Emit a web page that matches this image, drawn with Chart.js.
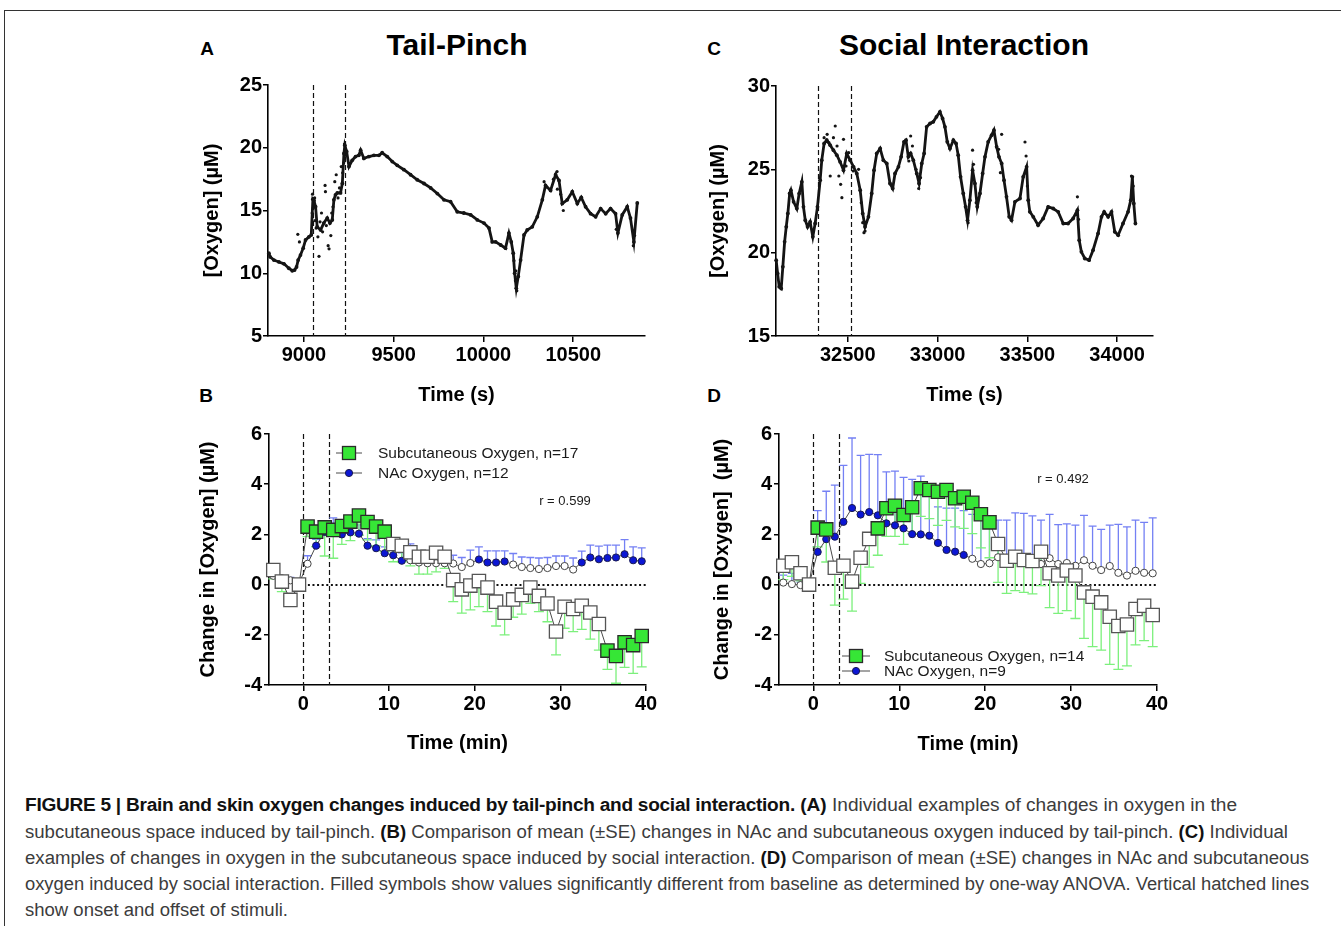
<!DOCTYPE html>
<html>
<head>
<meta charset="utf-8">
<script src="https://cdn.jsdelivr.net/npm/chart.js@4.4.1/dist/chart.umd.min.js"></script>
<style>
  html, body { margin: 0; padding: 0; background: #fff; }
  body { width: 1341px; height: 926px; position: relative; overflow: hidden;
         font-family: 'Liberation Sans', Arial, sans-serif; }
  .rule { position: absolute; }
  canvas { position: absolute; }
  .lbl { position: absolute; font-weight: bold; color: #000; white-space: nowrap;
         line-height: 1; transform: translate(-50%, -50%); }
  .cap { position: absolute; left: 25px; font-size: 18px; line-height: 20px; color: #3c3c3c;
         white-space: nowrap; transform-origin: 0 50%; }
  .cap b { color: #111; }
  .cap b.head { letter-spacing: -0.25px; }
</style>
</head>
<body>
<div class="rule" style="left:4px;top:10px;width:1337px;border-top:1.5px solid #333"></div>
<div class="rule" style="left:4px;top:10px;height:916px;border-left:1.5px solid #333"></div>

<div class="lbl" style="left:207px;top:48px;font-size:19px">A</div>
<div class="lbl" style="left:457px;top:45px;font-size:30px">Tail-Pinch</div>
<div class="lbl" style="left:714px;top:48px;font-size:19px">C</div>
<div class="lbl" style="left:964px;top:45px;font-size:30px">Social Interaction</div>
<div class="lbl" style="left:206px;top:395px;font-size:19px">B</div>
<div class="lbl" style="left:714px;top:395px;font-size:19px">D</div>

<canvas id="chartA" width="480" height="360" style="left:190px;top:60px;width:480px;height:360px"></canvas>
<canvas id="chartC" width="480" height="360" style="left:700px;top:60px;width:480px;height:360px"></canvas>
<canvas id="chartB" width="480" height="350" style="left:190px;top:420px;width:480px;height:350px"></canvas>
<canvas id="chartD" width="480" height="350" style="left:700px;top:420px;width:480px;height:350px"></canvas>

<div class="cap" data-w="1212" style="top:795px"><b class="head">FIGURE 5 | Brain and skin oxygen changes induced by tail-pinch and social interaction.</b> <b>(A)</b> Individual examples of changes in oxygen in the</div>
<div class="cap" data-w="1263" style="top:822px">subcutaneous space induced by tail-pinch. <b>(B)</b> Comparison of mean (±SE) changes in NAc and subcutaneous oxygen induced by tail-pinch. <b>(C)</b> Individual</div>
<div class="cap" data-w="1284" style="top:848px">examples of changes in oxygen in the subcutaneous space induced by social interaction. <b>(D)</b> Comparison of mean (±SE) changes in NAc and subcutaneous</div>
<div class="cap" data-w="1284" style="top:874px">oxygen induced by social interaction. Filled symbols show values significantly different from baseline as determined by one-way ANOVA. Vertical hatched lines</div>
<div class="cap" data-w="263" style="top:900px">show onset and offset of stimuli.</div>

<script>
// ---------- Panel A: tail-pinch, single subcutaneous recording ----------
const tpTime = [8805,8812,8833,8861,8889,8916,8935,8948,8959,8968,
  8981,8996,9009,9028,9041,9050,9056,9065,9074,9093,
  9111,9130,9145,9158,9167,9176,9186,9204,9214,9223,
  9228,9238,9251,9269,9288,9306,9316,9334,9362,9390,
  9418,9436,9464,9492,9520,9557,9594,9631,9669,9706,
  9743,9780,9817,9854,9891,9929,9966,10003,10031,10049,
  10068,10096,10123,10142,10155,10166,10174,10183,10194,10207,
  10226,10244,10272,10300,10328,10346,10374,10402,10421,10439,
  10467,10495,10523,10545,10569,10597,10625,10653,10681,10708,
  10736,10749,10773,10801,10819,10838,10857];
const tpO2 = [11.6,11.3,11.05,10.9,10.75,10.4,10.2,10.25,10.5,11.05,
  11.45,12.0,12.65,12.9,13.05,15.9,15.8,15.3,13.7,13.45,
  14.0,14.4,14.0,14.25,15.85,16.25,16.4,16.4,17.15,19.55,
  20.2,19.7,18.5,19.0,19.3,19.4,19.8,19.15,19.3,19.4,
  19.4,19.6,19.3,18.9,18.6,18.25,17.85,17.45,17.15,16.8,
  16.35,15.85,15.7,14.9,14.8,14.65,14.25,14.0,13.6,12.5,
  12.5,12.25,12.0,13.2,12.5,11.6,10.0,8.8,9.75,11.05,
  13.05,13.45,13.7,14.5,15.85,17.0,16.6,17.85,17.4,15.55,
  15.85,16.5,15.55,16.05,15.3,14.75,14.5,15.15,14.75,15.15,
  14.75,13.2,14.65,15.3,14.4,12.5,15.6];
// isolated samples around the noisy stretches
const tpDotTime = [8966,8975,9046,9048,9052,9060,9062,9068,9078,9084,9090,9098,9104,9118,9120,9125,9135,9140,9150,9155,
  9162,9172,9180,9190,9198,9208,9216,9222,9226,9232,10170,10178,10186,10180,10338,10390,10410,10412,10430,10445,10740,10835,10842];
const tpDotO2 = [13.1,12.5,14.8,16.3,15.2,16.0,14.2,13.6,12.9,11.35,14.1,14.8,13.3,17.0,16.5,13.8,12.2,11.95,13.0,14.8,
  15.3,17.3,17.85,16.0,16.8,18.5,18.0,18.8,20.3,19.4,11.0,9.4,8.6,10.2,17.3,17.5,18.1,16.7,16.3,15.0,13.5,12.2,13.0];
const tpStimulus = [9050, 9230];
const tpTicksX = [9000, 9500, 10000, 10500];
const tpTicksY = [5, 10, 15, 20, 25];

// ---------- Panel C: social interaction, single subcutaneous recording ----------
const siTime = [32101,32109,32118,32129,32138,32148,32157,32166,32176,32183,
  32198,32216,32229,32244,32253,32263,32276,32290,32305,32318,
  32331,32346,32355,32368,32383,32402,32420,32439,32457,32476,
  32494,32513,32532,32550,32569,32583,32596,32615,32633,32646,
  32661,32680,32698,32717,32735,32750,32763,32782,32797,32813,
  32824,32837,32850,32865,32884,32897,32912,32925,32939,32958,
  32976,32994,33013,33028,33041,33054,33069,33088,33103,33115,
  33128,33143,33156,33167,33180,33195,33208,33221,33236,33251,
  33264,33282,33301,33314,33329,33342,33357,33370,33384,33399,
  33412,33431,33459,33477,33496,33505,33514,33533,33560,33588,
  33616,33644,33672,33700,33727,33755,33779,33789,33801,33820,
  33844,33866,33894,33913,33928,33950,33969,33987,34006,34033,
  34061,34076,34085,34093,34102];
const siO2 = [19.55,18.75,17.95,17.85,19.15,20.65,21.55,22.35,23.55,23.75,
  23.05,22.65,23.55,24.25,22.75,21.95,21.55,21.85,20.95,21.75,
  22.75,24.35,25.55,26.55,26.75,26.45,26.15,25.85,25.45,24.95,
  25.95,25.55,25.15,24.75,23.75,22.35,21.55,22.15,23.55,24.95,
  25.95,26.25,25.55,25.35,24.15,23.85,24.75,25.15,25.75,26.65,
  26.75,25.75,25.95,25.55,24.75,24.15,25.35,25.95,27.55,27.75,
  27.85,28.15,28.45,28.05,27.55,26.65,26.25,26.75,26.55,25.85,
  24.55,23.55,22.75,21.95,23.15,24.95,24.15,22.75,23.55,24.75,
  25.75,26.65,27.05,27.35,26.35,25.75,25.35,24.35,23.35,22.15,
  21.95,23.05,23.25,24.55,25.15,23.15,22.45,22.15,21.65,22.05,
  22.75,22.65,22.45,21.75,21.75,22.05,22.55,20.75,20.05,19.65,
  19.55,20.15,21.15,22.15,22.45,22.15,22.45,21.25,21.05,21.75,
  22.45,23.15,24.55,22.95,21.75];
const siDotTime = [32368,32385,32395,32402,32420,32430,32440,32450,32460,32467,32476,32490,32505,32530,32560,32575,32583,32590,32596,
  32840,32850,32860,32880,32895,32905,33170,33195,33200,33215,33340,33350,33357,33487,33493,33500,33779,33785,34080,34090];
const siDotO2 = [26.9,27.1,26.6,24.6,26.9,27.6,26.4,24.6,24.1,23.3,26.8,25.2,26.0,24.9,25.0,23.0,21.8,21.2,21.3,
  25.5,27.0,26.4,25.0,23.85,24.5,21.8,26.15,25.3,23.0,26.2,24.8,27.1,26.64,25.8,24.0,23.35,22.0,24.6,24.0];
const siStimulus = [32333, 32517];
const siTicksX = [32500, 33000, 33500, 34000];
const siTicksY = [15, 20, 25, 30];

// ---------- Panels B and D: mean changes per 1-min bin ----------
const minutes = [-3.5,-2.5,-1.5,-0.5,0.5,1.5,2.5,3.5,4.5,5.5,6.5,7.5,8.5,9.5,10.5,11.5,12.5,13.5,14.5,15.5,16.5,17.5,
  18.5,19.5,20.5,21.5,22.5,23.5,24.5,25.5,26.5,27.5,28.5,29.5,30.5,31.5,32.5,33.5,34.5,35.5,36.5,37.5,38.5,39.5];
const minuteStimulus = [0, 3];
const minuteTicksX = [0, 10, 20, 30, 40];
const changeTicksY = [-4, -2, 0, 2, 4, 6];

// tail-pinch
const subTP = [0.58,0.12,-0.61,0.00,2.31,2.11,2.28,2.18,2.33,2.51,2.75,2.49,2.31,2.11,1.62,1.55,1.29,1.11,1.11,1.27,1.11,0.18,
  -0.19,-0.04,0.14,-0.12,-0.68,-1.12,-0.59,-0.41,-0.12,-0.45,-0.75,-1.87,-0.88,-0.97,-0.84,-1.11,-1.57,-2.63,-2.84,-2.30,-2.41,-2.05];
const subTPse = [0.35,0.40,0.23,0.05,0.40,0.60,1.14,1.13,0.73,0.76,0.78,0.71,0.77,0.80,0.71,0.64,0.54,0.69,0.69,0.76,0.46,0.86,
  0.95,0.97,1.02,0.96,0.97,0.88,0.71,0.77,0.63,0.63,0.73,0.93,0.86,0.90,0.94,1.06,1.04,0.75,1.09,1.00,1.13,1.23];
const subTPsig = [0,0,0,0,1,1,1,1,1,1,1,1,1,1,0,0,0,0,0,0,0,0,0,0,0,0,0,0,0,0,0,0,0,0,0,0,0,0,0,1,1,1,1,1];
const nacTP = [0.35,0.25,0.17,0.05,0.83,1.55,2.10,2.10,2.00,2.08,2.03,1.55,1.45,1.25,1.17,0.95,0.97,0.88,0.85,0.85,0.85,0.84,
  0.70,0.86,1.00,0.88,0.88,0.92,0.80,0.70,0.66,0.62,0.66,0.74,0.74,0.60,0.88,1.08,1.01,1.06,1.08,1.21,0.97,0.93];
const nacTPse = [0.10,0.10,0.12,0.05,0.32,0.25,0.15,0.56,0.30,0.27,0.35,0.28,0.33,0.25,0.22,0.31,0.65,0.27,0.20,0.25,0.35,0.33,
  0.38,0.51,0.50,0.46,0.46,0.42,0.44,0.40,0.42,0.44,0.42,0.40,0.40,0.46,0.45,0.49,0.52,0.51,0.49,0.58,0.53,0.53];
const nacTPsig = [0,0,0,0,0,1,1,1,1,1,1,1,1,1,1,1,0,0,0,0,0,0,0,0,1,1,1,1,0,0,0,0,0,0,0,0,1,1,1,1,1,1,1,1];

// social interaction
const subSI = [0.75,0.89,0.45,0.00,2.27,2.20,0.67,0.75,0.12,1.07,1.82,2.24,3.04,3.14,2.77,3.08,3.84,3.77,3.70,3.77,3.44,3.50,
  3.26,2.80,2.48,1.62,0.95,1.11,0.98,0.94,1.31,0.45,0.36,0.56,0.36,-0.31,-0.48,-0.71,-1.28,-1.65,-1.59,-0.97,-0.84,-1.21];
const subSIse = [0.55,0.56,0.30,0.05,0.77,1.30,1.49,1.33,1.18,1.02,1.12,1.07,1.12,1.22,1.17,1.05,1.12,1.14,1.34,1.21,1.14,1.26,
  1.23,1.34,1.41,1.53,1.30,1.35,1.29,1.31,1.35,1.37,1.51,1.60,1.71,1.83,1.99,1.90,1.90,1.73,1.65,1.43,1.39,1.26];
const subSIsig = [0,0,0,0,1,1,0,0,0,0,0,1,1,1,1,1,1,1,1,1,1,1,1,1,1,0,0,0,0,0,0,0,0,0,0,0,0,0,0,0,0,0,0,0];
const nacSI = [0.08,0.02,-0.02,0.00,1.30,1.81,1.91,2.50,3.05,2.79,2.89,2.76,2.44,2.36,2.24,2.01,2.00,1.95,1.66,1.38,1.31,1.18,
  1.03,0.82,0.85,1.09,0.95,0.98,0.90,0.85,0.82,1.05,0.82,0.86,0.75,0.97,0.75,0.58,0.74,0.47,0.36,0.55,0.47,0.45];
const nacSIse = [0.30,0.43,0.12,0.05,1.65,1.91,2.05,2.25,2.79,2.36,2.30,2.42,2.05,2.16,2.03,2.18,2.32,2.00,1.44,1.67,1.74,1.77,
  1.77,1.75,1.72,1.48,1.62,1.88,1.94,1.89,1.75,1.75,1.57,1.56,1.62,1.79,1.58,1.62,1.63,1.93,1.94,2.02,2.01,2.21];
const nacSIsig = [0,0,0,0,1,1,1,1,1,1,1,1,1,1,1,1,1,1,1,1,1,1,0,0,0,0,0,0,0,0,0,0,0,0,0,0,0,0,0,0,0,0,0,0];

// ---------- styling ----------
const FONT = "'Liberation Sans', Arial, sans-serif";
const GREEN = '#36e636', GREEN_ERR = '#7cf07c';
const BLUE = '#0b16d4', BLUE_ERR = '#7480f4';
const LINK = '#4a4a4a';
const AXIS_FONT = { family: FONT, size: 20, weight: 'bold' };

const pts = (xs, ys) => xs.map((v, i) => ({ x: v, y: ys[i] }));

function axis(o) {
  return {
    type: 'linear', min: o.min, max: o.max,
    afterBuildTicks: s => { s.ticks = o.ticks.map(v => ({ value: v })); },
    afterFit: s => { if (o.width) s.width = o.width; if (o.height) s.height = o.height; },
    ticks: { font: AXIS_FONT, color: '#000', padding: o.pad, maxRotation: 0, autoSkip: false,
             callback: v => String(v) },
    grid: { drawOnChartArea: false, drawTicks: true, tickLength: o.tl, color: '#000', lineWidth: 1.5 },
    border: { display: true, color: '#000', width: 1.6 },
    title: { display: true, text: o.title, font: AXIS_FONT, color: '#000', padding: o.titlePad }
  };
}

// stimulus lines, zero reference, one-sided SE bars, legend and r note
const panelDecor = {
  id: 'panelDecor',
  beforeDatasetsDraw(chart, args, o) {
    const { ctx, chartArea: a, scales: { x, y } } = chart;
    ctx.save();
    if (o.zeroFrom !== undefined) {
      const py = Math.round(y.getPixelForValue(0));
      ctx.strokeStyle = '#111'; ctx.lineWidth = 2.2; ctx.setLineDash([2, 2.6]);
      ctx.beginPath(); ctx.moveTo(x.getPixelForValue(o.zeroFrom), py); ctx.lineTo(a.right, py); ctx.stroke();
    }
    ctx.strokeStyle = '#111'; ctx.lineWidth = 1.2; ctx.setLineDash([5, 3]);
    (o.stimulus || []).forEach(t => {
      const px = Math.round(x.getPixelForValue(t)) + 0.5;
      ctx.beginPath(); ctx.moveTo(px, a.top); ctx.lineTo(px, a.bottom); ctx.stroke();
    });
    ctx.setLineDash([]);
    (o.errorBars || []).forEach(eb => {
      const ds = chart.data.datasets[eb.dataset];
      ctx.strokeStyle = eb.color; ctx.lineWidth = 1.3;
      ds.data.forEach((p, i) => {
        const px = x.getPixelForValue(p.x);
        const py = y.getPixelForValue(p.y);
        const pe = y.getPixelForValue(p.y + eb.dir * eb.se[i]);
        ctx.beginPath();
        ctx.moveTo(px, py); ctx.lineTo(px, pe);
        ctx.moveTo(px - eb.cap, pe); ctx.lineTo(px + eb.cap, pe);
        ctx.stroke();
      });
    });
    ctx.restore();
  },
  afterDraw(chart, args, o) {
    const { ctx, chartArea: a } = chart;
    ctx.save();
    (o.legend || []).forEach(it => {
      const y = a.top + it.dy;
      ctx.strokeStyle = LINK; ctx.lineWidth = 1;
      ctx.beginPath(); ctx.moveTo(a.left + it.x1, y); ctx.lineTo(a.left + it.x2, y); ctx.stroke();
      const mx = a.left + it.mx;
      if (it.kind === 'rect') {
        ctx.fillStyle = GREEN; ctx.strokeStyle = '#2a2a2a'; ctx.lineWidth = 1.3;
        ctx.fillRect(mx - 6.5, y - 6.5, 13, 13); ctx.strokeRect(mx - 6.5, y - 6.5, 13, 13);
      } else {
        ctx.fillStyle = BLUE; ctx.strokeStyle = '#1a1a50'; ctx.lineWidth = 1;
        ctx.beginPath(); ctx.arc(mx, y, 3.6, 0, Math.PI * 2); ctx.fill(); ctx.stroke();
      }
      ctx.fillStyle = '#1a1a1a'; ctx.font = `15.5px ${FONT}`;
      ctx.textAlign = 'left'; ctx.textBaseline = 'middle';
      ctx.fillText(it.text, a.left + it.tx, y + 1);
    });
    if (o.note) {
      ctx.fillStyle = '#1a1a1a'; ctx.font = `13px ${FONT}`;
      ctx.textAlign = 'center'; ctx.textBaseline = 'middle';
      ctx.fillText(o.note.text, a.left + o.note.dx, a.top + o.note.dy);
    }
    ctx.restore();
  }
};
Chart.register(panelDecor);

const base = { responsive: false, animation: false, devicePixelRatio: 1, events: [] };

function traceChart(id, cfg) {
  return new Chart(document.getElementById(id), {
    type: 'line',
    data: {
      datasets: [
        { data: pts(cfg.t, cfg.v), borderColor: '#141414', borderWidth: 2.8, pointRadius: 1.9,
          pointBackgroundColor: '#141414', pointBorderWidth: 0, pointHoverRadius: 0, tension: 0, clip: false },
        { data: pts(cfg.dt, cfg.dv), showLine: false, pointRadius: 1.6, pointBackgroundColor: '#141414',
          pointBorderWidth: 0, pointHoverRadius: 0, clip: false }
      ]
    },
    options: Object.assign({}, base, {
      layout: { padding: cfg.padding },
      plugins: { legend: { display: false }, tooltip: { enabled: false },
                 panelDecor: { stimulus: cfg.stimulus } },
      scales: {
        x: axis({ min: cfg.xmin, max: cfg.xmax, ticks: cfg.xticks, height: 84, pad: 1.5, tl: 6,
                  title: 'Time (s)', titlePad: { top: 0, bottom: 13 } }),
        y: axis({ min: cfg.ymin, max: cfg.ymax, ticks: cfg.yticks, width: cfg.yw, pad: 1, tl: 5,
                  title: '[Oxygen] (µM)', titlePad: { top: cfg.ytp, bottom: 0 } })
      }
    })
  });
}

function meanChart(id, cfg) {
  return new Chart(document.getElementById(id), {
    type: 'line',
    data: {
      datasets: [
        { label: 'Subcutaneous Oxygen', data: pts(minutes, cfg.sub), borderColor: LINK, borderWidth: 1,
          pointStyle: 'rect', pointRadius: 9.4, pointHoverRadius: 9.4,
          pointBackgroundColor: cfg.subSig.map(s => s ? GREEN : '#fff'),
          pointBorderColor: cfg.subSig.map(s => s ? '#2a2a2a' : '#555'), pointBorderWidth: 1.3,
          tension: 0, clip: false },
        { label: 'NAc Oxygen', data: pts(minutes, cfg.nac), borderColor: LINK, borderWidth: 1,
          pointStyle: 'circle', pointRadius: 3.6, pointHoverRadius: 3.6,
          pointBackgroundColor: cfg.nacSig.map(s => s ? BLUE : '#fff'),
          pointBorderColor: cfg.nacSig.map(s => s ? '#1a1a50' : '#444'), pointBorderWidth: 1,
          tension: 0, clip: false }
      ]
    },
    options: Object.assign({}, base, {
      layout: { padding: cfg.padding },
      plugins: {
        legend: { display: false }, tooltip: { enabled: false },
        panelDecor: {
          stimulus: minuteStimulus, zeroFrom: 0,
          errorBars: [
            { dataset: 1, se: cfg.nacSe, dir: 1, color: BLUE_ERR, cap: 4 },
            { dataset: 0, se: cfg.subSe, dir: -1, color: GREEN_ERR, cap: 5 }
          ],
          legend: cfg.legend, note: cfg.note
        }
      },
      scales: {
        x: axis({ min: -4, max: 40, ticks: minuteTicksX, height: 85, pad: 1, tl: 6,
                  title: 'Time (min)', titlePad: { top: 0, bottom: cfg.xtp } }),
        y: axis({ min: -4, max: 6, ticks: changeTicksY, width: cfg.yw, pad: 2, tl: 5,
                  title: cfg.ytitle, titlePad: { top: cfg.ytp, bottom: 0 } })
      }
    })
  });
}

traceChart('chartA', { t: tpTime, v: tpO2, dt: tpDotTime, dv: tpDotO2, stimulus: tpStimulus,
  xmin: 8800, xmax: 10900, xticks: tpTicksX, ymin: 5, ymax: 25, yticks: tpTicksY,
  yw: 78, ytp: 10, padding: { left: 0, top: 25, right: 25, bottom: 0 } });

traceChart('chartC', { t: siTime, v: siO2, dt: siDotTime, dv: siDotO2, stimulus: siStimulus,
  xmin: 32100, xmax: 34200, xticks: siTicksX, ymin: 15, ymax: 30, yticks: siTicksY,
  yw: 76, ytp: 6, padding: { left: 0, top: 26, right: 27, bottom: 0 } });

meanChart('chartB', { sub: subTP, subSe: subTPse, subSig: subTPsig, nac: nacTP, nacSe: nacTPse, nacSig: nacTPsig,
  yw: 79, ytp: 6, xtp: 15, ytitle: 'Change in [Oxygen] (µM)',
  padding: { left: 0, top: 14, right: 24, bottom: 0 },
  legend: [
    { kind: 'rect', dy: 19, x1: 67, x2: 93, mx: 80, tx: 109, text: 'Subcutaneous Oxygen, n=17' },
    { kind: 'circle', dy: 39, x1: 67, x2: 93, mx: 80, tx: 109, text: 'NAc Oxygen, n=12' }
  ],
  note: { text: 'r = 0.599', dx: 296, dy: 67 } });

meanChart('chartD', { sub: subSI, subSe: subSIse, subSig: subSIsig, nac: nacSI, nacSe: nacSIse, nacSig: nacSIsig,
  yw: 79, ytp: 10, xtp: 14, ytitle: 'Change in [Oxygen]  (µM)',
  padding: { left: 0, top: 14, right: 23, bottom: 0 },
  legend: [
    { kind: 'rect', dy: 222, x1: 63, x2: 91, mx: 77, tx: 105, text: 'Subcutaneous Oxygen, n=14' },
    { kind: 'circle', dy: 237, x1: 63, x2: 91, mx: 77, tx: 105, text: 'NAc Oxygen, n=9' }
  ],
  note: { text: 'r = 0.492', dx: 284, dy: 45 } });

// caption lines are set to their column widths
document.querySelectorAll('.cap').forEach(el => {
  const w = el.getBoundingClientRect().width;
  el.style.transform = `scaleX(${(+el.dataset.w / w).toFixed(4)})`;
});
</script>
</body>
</html>
